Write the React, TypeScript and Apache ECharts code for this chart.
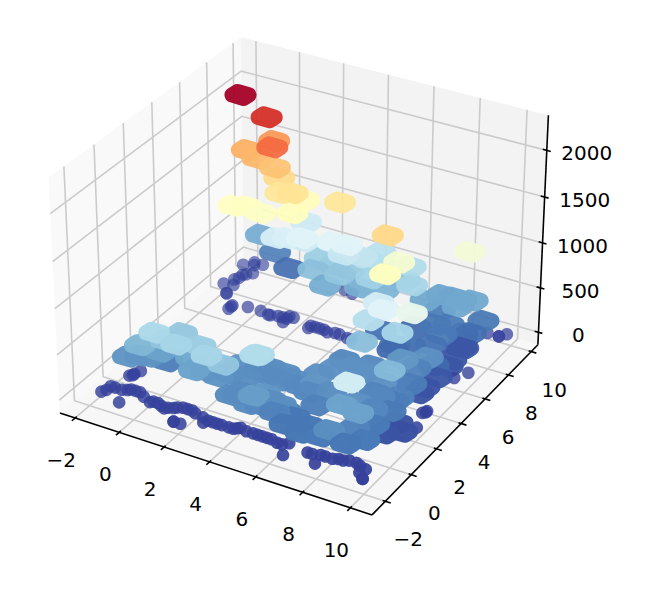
import React, { useEffect, useRef } from "react";
import * as echarts from "echarts";

const xTicks = [-2, 0, 2, 4, 6, 8, 10];
const yTicks = [-2, 0, 2, 4, 6, 8, 10];
const zTicks = [0, 500, 1000, 1500, 2000];
const xLim = [-2.7, 10.9];
const yLim = [-3.0, 10.6];
const zLim = [-142, 2371];
const colorRamp = ["#313695","#4575b4","#74add1","#abd9e9","#e0f3f8","#ffffbf","#fee090","#fdae61","#f46d43","#d73027","#a50026"];

// Low readings: [x, y], all at about z = 40
const lowZ = 40;
const frontRow = [[-1.5,-1.9],[-1.4,-1.7],[-1.4,-1.4],[-1.2,-1.4],[-0.9,-1.4],[-0.5,-2.2],[-0.7,-1.3],[-0.6,-1.2],[-0.4,-1.2],[-0.2,-1.2],
[0.1,-1.4],[0.5,-1.6],[0.6,-1.5],[0.8,-1.5],[1.0,-1.6],[1.2,-1.7],[1.3,-1.6],[1.5,-1.5],[1.6,-1.4],[1.8,-1.3],
[2.0,-1.3],[2.2,-1.3],[2.0,-2.3],[2.0,-2.3],[2.3,-2.3],[2.4,-1.4],[2.8,-1.5],[3.0,-1.8],[3.1,-1.6],[3.3,-1.6],
[3.5,-1.6],[3.7,-1.6],[4.0,-1.6],[4.2,-1.6],[4.3,-1.5],[4.4,-1.4],[4.7,-1.5],[5.0,-1.5],[5.2,-1.5],[5.4,-1.5],
[5.6,-1.5],[5.8,-1.5],[6.1,-1.6],[6.3,-1.6],[6.5,-1.4],[6.7,-2.2],[7.4,-1.6],[7.6,-1.6],[7.9,-1.5],[8.0,-2.1],
[8.1,-1.5],[8.4,-1.5],[8.6,-1.4],[8.8,-1.4],[9.0,-1.3],[9.3,-1.3],[9.5,-1.4],[9.8,-1.5],[9.7,-1.8],[10.0,-2.1],[10.0,-2.1]];
const leftStub = [[-1.2,-0.4],[-1.1,-0.2],[-1.0,0.1],[-1.1,-0.3]];
const backRow = [[-0.5,6.0],[-0.5,6.1],[-0.5,5.8],[0.1,6.3],[0.7,6.3],[1.1,6.2],[1.2,6.2],[1.5,6.3],[1.9,6.0],[1.7,6.3],[1.9,6.3],[2.1,6.5],[1.9,6.5],
[3.0,6.1],[3.0,6.3],[3.2,6.3],[3.4,6.3],[3.6,6.3],[3.8,6.2],[4.1,6.3],[4.3,6.3],[4.7,6.2],[4.9,6.2]];
const leftBack = [[-1.2,6.8],[-1.2,6.8],[-1.7,7.4],[-1.5,7.9],[-1.4,8.1],[-1.4,8.4],[-1.3,8.5],[-1.1,8.7],[-1.5,9.5],[-1.4,9.3],[-1.8,9.1],[-1.1,9.5],[-1.3,7.5]];
const rightEdge = [[10.1,1.9],[9.8,2.9],[9.9,3.1],[9.9,3.0],[9.7,5.7],[10.0,6.3],[9.3,9.3],[9.8,9.3],[9.8,9.3],[10.0,9.6],[9.0,8.5],[2.8,9.4],[3.2,9.3]];

// Raised clusters: [x, y, z]
const peakCells = [[-0.8,7.4,2200],[0.2,7.7,1990],[0.0,8.6,1620],[0.8,7.1,1770],[-0.9,8.0,1530],[-0.3,7.8,1500],
[0.5,7.8,1450],[0.7,7.8,1350],[1.1,7.2,1280],[1.6,7.3,1300],[1.6,8.2,1120],[-0.7,6.6,1090],
[-0.2,6.8,1090],[0.5,6.7,1080],[1.7,7.1,1110],[3.5,7.7,1280],[6.6,5.9,1350],[8.8,8.5,1010],
[6.9,6.3,1030],[7.1,4.8,1100]];
const backCells = [[-1.0,9.2,430],[1.2,6.7,850],[1.6,6.9,850],[2.2,7.0,880],
[1.4,8.7,800],[2.1,7.3,800],[3.4,7.3,880],[4.0,7.4,880],[4.5,7.7,750],[4.9,8.5,720],
[3.9,7.3,780],[6.3,8.4,680],[6.9,7.4,640],[-0.4,9.3,260],[0.5,8.9,190],[2.6,7.2,530],
[3.8,7.2,560],[3.3,6.9,440],[4.6,7.4,450],[5.2,7.2,620],[7.5,8.8,400],[8.0,8.8,410],
[8.8,8.9,420],[8.5,8.2,420]];
const rightCells = [[7.0,4.5,820],[7.6,3.8,880],[8.8,3.8,930],[6.9,3.9,700],
[8.1,4.0,640],[6.9,3.4,530],[8.4,7.1,240],[9.3,8.9,230],[9.2,8.0,200],[7.1,7.4,190],
[8.7,8.3,120],[9.1,7.4,110],[9.0,4.8,330],[8.3,4.1,350],[8.7,2.3,500],[9.2,2.1,270],
[8.6,1.7,290],[9.4,-0.9,240],[8.2,0.7,330],[8.8,-0.3,400],[8.0,-0.1,400],[8.8,-1.0,820],
[8.2,-1.4,320],[8.8,0.8,290],[9.1,1.9,250],[7.6,6.0,200],[8.3,6.4,210],[7.1,5.5,180],
[7.3,3.4,300],[6.2,3.3,290],[7.5,8.7,250],[9.2,6.4,110],[9.3,5.9,110],[9.3,5.0,110],
[9.2,4.2,100],[9.2,3.7,100],[9.2,7.4,110],[9.5,1.5,100],[9.4,0.6,100],[9.9,1.1,90]];
const frontCells = [[4.1,-0.7,310],[5.0,-0.6,350],[5.8,-0.8,320],[4.1,1.3,310],[5.3,1.0,320],[6.0,1.7,330],
[6.3,0.9,350],[6.9,2.8,330],[6.4,-0.8,230],[6.8,0.1,270],[7.1,-1.0,230],[4.5,-0.2,680],
[0.2,-0.7,660],[0.8,0.3,570],[-0.4,-0.8,490],[1.3,-0.9,640],[-0.9,-0.9,340],[-0.2,-0.5,340],
[0.3,0.0,260],[2.7,-1.0,640],[3.3,-0.8,560],[4.4,-0.3,680],[2.0,-0.8,400],[2.8,-0.4,340],
[3.1,0.7,340],[3.8,0.9,310],[4.3,1.1,320],[4.0,-0.9,310],[4.8,-1.1,380],[5.3,-0.7,320],
[6.0,-0.8,270],[4.9,0.7,310],[-0.6,-0.5,320],[0.2,-0.3,400],[1.5,-0.2,420],[2.2,-0.3,340],
[3.0,0.1,320],[3.7,0.2,320],[2.0,-0.3,600],[0.5,-0.4,560],[3.8,-1.1,310],[4.7,-1.3,310],
[5.1,-1.1,300],[5.7,-1.1,270],[6.3,-1.4,230],[7.1,-1.6,230],[7.9,-1.5,240],[8.9,-1.4,230]];
const infillCells = [[8.8,-0.6,280],[9.2,0.2,240],[3.5,1.2,330],[4.3,0.8,310],[4.8,1.2,320],[5.7,0.8,300],
[6.2,0.6,300],[7.0,0.9,320],[6.3,2.3,330],[7.4,2.7,330],[8.3,2.4,330],[9.1,3.3,250],
[8.8,4.2,280],[9.0,5.3,180],[8.3,1.9,280],[9.3,1.3,240],[6.1,6.4,210],[7.1,5.7,210],
[7.8,7.7,230],[8.3,7.9,240],[7.2,8.0,420],[8.4,8.7,420],[2.6,7.7,600],[4.0,7.6,580],
[5.6,7.5,480],[5.7,8.2,620],[6.2,8.1,560],[4.7,7.9,700],[3.1,8.0,520]];

const az = -60 * Math.PI / 180, el = 30 * Math.PI / 180, dist = 10;
const boxXY = 1.19048, boxZ = 0.89286;
const w = [Math.cos(el)*Math.cos(az), Math.cos(el)*Math.sin(az), Math.sin(el)];
const uLen = Math.hypot(w[0], w[1]);
const u = [-w[1]/uLen, w[0]/uLen, 0];
const v = [w[1]*u[2]-w[2]*u[1], w[2]*u[0]-w[0]*u[2], w[0]*u[1]-w[1]*u[0]];
const S = 3004, TX = 303.3, TY = 264.6;
const dot = (a:number[], b:number[]) => a[0]*b[0]+a[1]*b[1]+a[2]*b[2];
function proj(x:number,y:number,z:number){
  const p=[((x-xLim[0])/(xLim[1]-xLim[0])-.5)*boxXY, ((y-yLim[0])/(yLim[1]-yLim[0])-.5)*boxXY, ((z-zLim[0])/(zLim[1]-zLim[0])-.5)*boxZ];
  const D=dot(w,p); const d=dist-D;
  return [TX+S*dot(u,p)/d, TY-S*dot(v,p)/d, D];
}
const r=7.5, cs=[[-8,0],[3,3.2],[8,0],[-3,-3.2]];
function makeBlob(){
  const n=cs.map((c,i)=>{const e=cs[(i+1)%4];const dx=e[0]-c[0],dy=e[1]-c[1],l=Math.hypot(dx,dy);return [-dy/l,dx/l];});
  let d="";
  cs.forEach((c,i)=>{
    const e=cs[(i+1)%4];
    const a=[c[0]+r*n[i][0],c[1]+r*n[i][1]],b=[e[0]+r*n[i][0],e[1]+r*n[i][1]];
    const nn=n[(i+1)%4];
    const a2=[e[0]+r*nn[0],e[1]+r*nn[1]];
    d+=(i===0?`M${a[0]} ${a[1]}`:"")+`L${b[0]} ${b[1]}A${r} ${r} 0 0 0 ${a2[0]} ${a2[1]}`;
  });
  return "path://"+d+"Z";
}
const blobPath=makeBlob();

export default function App(){
  const ref=useRef<HTMLDivElement>(null);
  useEffect(()=>{
    document.body.style.margin="0";
    const chart=echarts.init(ref.current!,undefined,{renderer:"svg"});
    const circles=[...frontRow,...leftStub,...backRow,...leftBack,...rightEdge].map(p=>[p[0],p[1],lowZ]);
    const blobs=[...peakCells,...backCells,...rightCells,...frontCells,...infillCells];
    const marks=[...circles.map(p=>({p,b:false})),...blobs.map(p=>({p,b:true}))].map(m=>{
      const s=proj(m.p[0],m.p[1],m.p[2]); return {...m,s};
    }).sort((a,b)=>a.s[2]-b.s[2]);
    const ds=marks.map(m=>m.s[2]); const d0=Math.min(...ds), d1=Math.max(...ds);
    const data=marks.map(m=>{
      const t=(m.s[2]-d0)/(d1-d0);
      return {value:[m.s[0],m.s[1],m.p[0],m.p[1],m.p[2]],symbol:m.b?blobPath:"circle",symbolSize:m.b?[32,22]:12.6,itemStyle:{opacity:m.b?0.9+0.1*t:0.62+0.33*t}};
    });
    const renderFrame=(_:any,api:any)=>{
      const P=(x:number,y:number,z:number)=>{const s=proj(x,y,z);return api.coord([s[0],s[1]]);};
      const [x0,x1]=xLim,[y0,y1]=yLim,[z0,z1]=zLim;
      const poly=(pts:number[][],fill:string)=>({type:"polygon",shape:{points:pts},style:{fill,stroke:"none"}});
      const grid=(a:number[],b:number[],c:number[])=>({type:"polyline",shape:{points:[a,b,c]},style:{fill:"none",stroke:"#cbcbcb",lineWidth:1.6}});
      const seg=(a:number[],b:number[],lw=1.6)=>({type:"line",shape:{x1:a[0],y1:a[1],x2:b[0],y2:b[1]},style:{stroke:"#000",lineWidth:lw}});
      const dx=(x1-x0)/12,dy=(y1-y0)/12;
      const ch:any[]=[
        poly([P(x0,y0,z0),P(x0,y1,z0),P(x0,y1,z1),P(x0,y0,z1)],"#f9f9f9"),
        poly([P(x0,y1,z0),P(x1,y1,z0),P(x1,y1,z1),P(x0,y1,z1)],"#f3f3f3"),
        poly([P(x0,y0,z0),P(x1,y0,z0),P(x1,y1,z0),P(x0,y1,z0)],"#f7f7f7"),
      ];
      xTicks.forEach(t=>ch.push(grid(P(t,y0,z0),P(t,y1,z0),P(t,y1,z1))));
      yTicks.forEach(t=>ch.push(grid(P(x1,t,z0),P(x0,t,z0),P(x0,t,z1))));
      zTicks.forEach(t=>ch.push(grid(P(x0,y0,t),P(x0,y1,t),P(x1,y1,t))));
      ch.push(seg(P(x0,y0,z0),P(x1,y0,z0)),seg(P(x1,y0,z0),P(x1,y1,z0)),seg(P(x1,y1,z0),P(x1,y1,z1)));
      xTicks.forEach(t=>ch.push(seg(P(t,y0-.2*dy,z0),P(t,y0+.1*dy,z0))));
      yTicks.forEach(t=>ch.push(seg(P(x1+.2*dx,t,z0),P(x1-.1*dx,t,z0))));
      zTicks.forEach(t=>ch.push(seg(P(x1-.15*dx,y1,t),P(x1+.15*dx,y1,t))));
      return {type:"group",children:ch};
    };
    const text=(t:number,s:number[],ox:number,oy:number)=>({type:"text",x:s[0]+ox,y:s[1]+oy,style:{text:String(t).replace("-","\u2212"),font:"20px 'DejaVu Sans'",fill:"#000",textAlign:"center",textVerticalAlign:"middle"}});
    const labels=[
      ...xTicks.map(t=>text(t,proj(t,yLim[0],zLim[0]),-14,42)),
      ...yTicks.map(t=>text(t,proj(xLim[1],t,zLim[0]),23,38)),
      ...zTicks.map(t=>text(t,proj(xLim[1],yLim[1],t),40,3)),
    ];
    chart.setOption({
      animation:false,
      grid:{left:0,right:0,top:0,bottom:0},
      xAxis:{type:"value",min:0,max:670,show:false},
      yAxis:{type:"value",min:0,max:590,inverse:true,show:false},
      visualMap:{show:false,type:"continuous",seriesIndex:1,dimension:4,min:0,max:2200,inRange:{color:colorRamp}},
      graphic:labels,
      series:[
        {type:"custom",renderItem:renderFrame,data:[[0,0]],silent:true,clip:false,z:1},
        {type:"scatter",data,silent:true,z:2,clip:false},
      ],
    });
    return ()=>chart.dispose();
  },[]);
  return <div ref={ref} style={{width:670,height:590}}/>;
}
